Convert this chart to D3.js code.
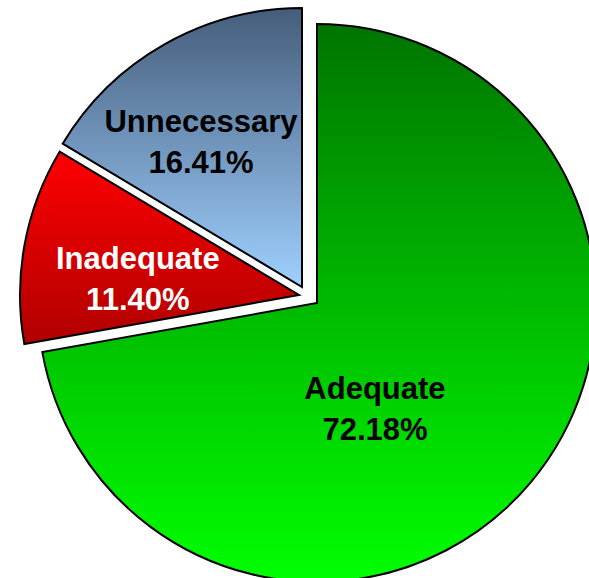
<!DOCTYPE html>
<html>
<head>
<meta charset="utf-8">
<script src="https://cdn.jsdelivr.net/npm/d3@7"></script>
<style>
  body { margin: 0; background: #fff; }
  text { font-family: "Liberation Sans", Arial, sans-serif; font-weight: bold; }
</style>
</head>
<body>
<svg id="pie" width="589" height="578"></svg>
<script>
// Data
var categories = ["Adequate", "Inadequate", "Unnecessary"];
var shares = [72.18, 11.40, 16.41];
var labels = ["72.18%", "11.40%", "16.41%"];

// colours (top -> bottom gradient) and label colour
var gradTop = ["#007400", "#ff0000", "#455d7b"];
var gradBottom = ["#00ff00", "#b00000", "#9fd0ff"];
var labelColor = ["#000", "#fff", "#000"];

// layout
var cx = 317, cy = 303, radius = 279;
var explode = [[0, 0], [-18, -8], [-15, -16]];
var labelNudge = [[-34, 24], [-2, 8], [-13, 5]];
var labelK = [0.43, 0.58, 0.64];

var svg = d3.select("#pie");
var defs = svg.append("defs");

categories.forEach(function(c, i) {
  var g = defs.append("linearGradient")
      .attr("id", "grad" + i)
      .attr("x1", 0).attr("y1", 0).attr("x2", 0).attr("y2", 1);
  g.append("stop").attr("offset", "0%").attr("stop-color", gradTop[i]);
  g.append("stop").attr("offset", "100%").attr("stop-color", gradBottom[i]);
});

var pie = d3.pie().sort(null).value(function(d) { return d; });
var arcs = pie(shares);

var arc = d3.arc().innerRadius(0).outerRadius(radius);

var slices = svg.append("g")
  .selectAll("g")
  .data(arcs)
  .enter().append("g")
    .attr("transform", function(d, i) {
      return "translate(" + (cx + explode[i][0]) + "," + (cy + explode[i][1]) + ")";
    });

slices.append("path")
  .attr("d", arc)
  .attr("fill", function(d, i) { return "url(#grad" + i + ")"; })
  .attr("stroke", "#000")
  .attr("stroke-width", 2)
  .attr("stroke-linejoin", "miter");

// labels
slices.each(function(d, i) {
  var la = d3.arc().innerRadius(radius * labelK[i]).outerRadius(radius * labelK[i]);
  var p = la.centroid(d);
  var t = d3.select(this).append("text")
    .attr("text-anchor", "middle")
    .attr("font-size", 31)
    .attr("fill", labelColor[i])
    .attr("transform", "translate(" + (p[0] + labelNudge[i][0]) + "," + (p[1] + labelNudge[i][1]) + ")");
  t.append("tspan").attr("x", 0).attr("y", -5).text(categories[i]);
  t.append("tspan").attr("x", 0).attr("y", 36).text(labels[i]);
});
</script>
</body>
</html>
